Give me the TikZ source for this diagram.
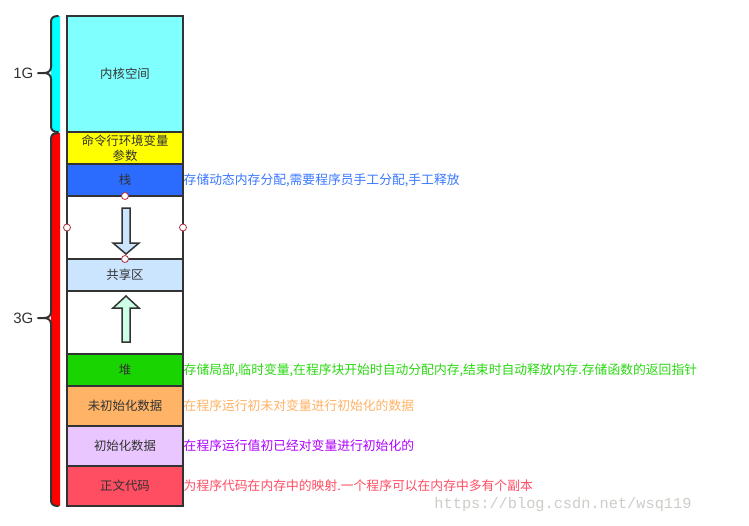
\documentclass[tikz,border=0pt]{standalone}
\usepackage{fontspec}
\setmainfont{Liberation Sans}
\newfontfamily\cjk{Noto Sans CJK SC}
\newfontfamily\wmfont{Liberation Mono}
\definecolor{edge}{HTML}{333333}
\definecolor{ckernel}{HTML}{80FFFF}
\definecolor{cyellow}{HTML}{FFFF00}
\definecolor{cstack}{HTML}{2B6CFF}
\definecolor{cshare}{HTML}{CCE5FF}
\definecolor{cheap}{HTML}{19D400}
\definecolor{cuninit}{HTML}{FFB366}
\definecolor{cinit}{HTML}{E9C6FF}
\definecolor{ctext}{HTML}{FF4D62}
\definecolor{tstack}{HTML}{3A78FF}
\definecolor{theap}{HTML}{2AD811}
\definecolor{tuninit}{HTML}{FFB366}
\definecolor{tinit}{HTML}{B000FF}
\definecolor{ttext}{HTML}{FF4D62}
\definecolor{handle}{HTML}{B03040}
\definecolor{upfill}{HTML}{CCFFE6}
\definecolor{bcyan}{HTML}{00FFFF}
\definecolor{bred}{HTML}{FF0000}
\definecolor{wmgray}{HTML}{CDCDC8}
\tikzset{
  row/.style={draw=edge, line width=2pt, minimum width=116pt, inner sep=0pt, outer sep=0pt,
    font=\cjk\fontsize{12.4}{14}\selectfont, text=edge, align=center},
  side/.style={anchor=west, inner sep=0.5pt, font=\cjk\fontsize{12.8}{15}\selectfont},
  handlept/.style={circle, draw=handle, fill=white, line width=0.8pt, minimum size=7pt, inner sep=0pt},
  brace/.style={draw=edge, line width=2pt, line cap=round, line join=round},
  sizelabel/.style={font=\fontsize{15}{17}\selectfont, text=edge, inner sep=0pt},
  arrowshape/.style={draw=edge, line width=1.5pt, line join=miter}
}
\begin{document}
\begin{tikzpicture}[x=1pt, y=-1pt]
\useasboundingbox (0,0) rectangle (749,525);
\fill[white] (0,0) rectangle (749,525);

% braces
\fill[bcyan] (60,16) -- (57,16) .. controls (53,16) and (51,18) .. (51,22) -- (51,126) .. controls (51,130) and (53,132) .. (57,132) -- (60,132) -- cycle;
\draw[brace] (58,16) .. controls (53,16) and (51,18) .. (51,22) -- (51,67) .. controls (51,71) and (48,73) .. (44,73) -- (38,73)
  (44,73) .. controls (48,73) and (51,75) .. (51,79) -- (51,126) .. controls (51,130) and (53,132) .. (58,132);
\fill[bred] (60,133) -- (57,133) .. controls (53,133) and (51,135) .. (51,139) -- (51,500) .. controls (51,504) and (53,506) .. (57,506) -- (60,506) -- cycle;
\draw[brace] (58,133) .. controls (53,133) and (51,135) .. (51,139) -- (51,312) .. controls (51,316) and (48,318) .. (44,318) -- (38,318)
  (44,318) .. controls (48,318) and (51,320) .. (51,324) -- (51,500) .. controls (51,504) and (53,506) .. (58,506);
\node[sizelabel, anchor=east] (g1) at (33.5,73) {1G};
\node[sizelabel, anchor=east] (g3) at (33.5,318) {3G};

% rows
\node[row, fill=ckernel, minimum height=116pt] (kernel) at (125,74) {内核空间};
\node[row, fill=cyellow, minimum height=32pt, font=\cjk\fontsize{12.4}{15}\selectfont] (env) at (125,148) {命令行环境变量\\参数};
\node[row, fill=cstack, minimum height=32pt] (stack) at (125,180) {栈};
\node[row, fill=white, minimum height=63pt] (gap1) at (125,227.5) {};
\node[row, fill=cshare, minimum height=32pt] (share) at (125,275) {共享区};
\node[row, fill=white, minimum height=63pt] (gap2) at (125,322.5) {};
\node[row, fill=cheap, minimum height=32pt] (heap) at (125,370) {堆};
\node[row, fill=cuninit, minimum height=40pt] (uninit) at (125,406) {未初始化数据};
\node[row, fill=cinit, minimum height=40pt] (init) at (125,446) {初始化数据};
\node[row, fill=ctext, minimum height=40pt] (code) at (125,486) {正文代码};

% arrows
\draw[arrowshape, fill=cshare] (122,208) -- (130,208) -- (130,243) -- (139,243) -- (126,254) -- (113,243) -- (122,243) -- cycle;
\draw[arrowshape, fill=upfill] (122,342) -- (130,342) -- (130,308) -- (139,308) -- (126,296) -- (113,308) -- (122,308) -- cycle;

% selection handles
\node[handlept] (h1) at (gap1.north) {};
\node[handlept] (h2) at (gap1.west) {};
\node[handlept] (h3) at (gap1.east) {};
\node[handlept] (h4) at (gap1.south) {};

% side labels
\node[side, text=tstack] (lstack) at (stack.east) {存储动态内存分配,需要程序员手工分配,手工释放};
\node[side, text=theap] (lheap) at (heap.east) {存储局部,临时变量,在程序块开始时自动分配内存,结束时自动释放内存.存储函数的返回指针};
\node[side, text=tuninit] (luninit) at (uninit.east) {在程序运行初未对变量进行初始化的数据};
\node[side, text=tinit] (linit) at (init.east) {在程序运行值初已经对变量进行初始化的};
\node[side, text=ttext] (lcode) at (code.east) {为程序代码在内存中的映射.一个程序可以在内存中多有个副本};

% watermark
\node[font=\wmfont\fontsize{15.3}{17}\selectfont, text=wmgray, inner sep=0pt] (wm) at (563,505) {https://blog.csdn.net/wsq119};
\end{tikzpicture}
\end{document}
